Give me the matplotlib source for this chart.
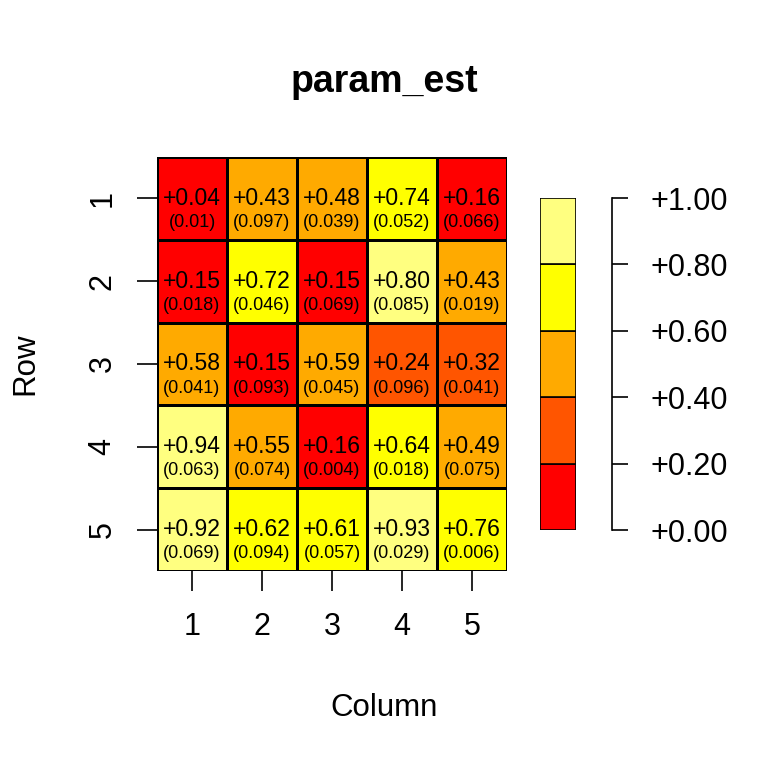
import numpy as np
import matplotlib.pyplot as plt
from matplotlib.colors import ListedColormap, BoundaryNorm

plt.rcParams['font.family'] = ['Liberation Sans', 'DejaVu Sans']

# Estimated parameters (rows 1..5 from top)
param_est = np.array([
    [0.04, 0.43, 0.48, 0.74, 0.16],
    [0.15, 0.72, 0.15, 0.80, 0.43],
    [0.58, 0.15, 0.59, 0.24, 0.32],
    [0.94, 0.55, 0.16, 0.64, 0.49],
    [0.92, 0.62, 0.61, 0.93, 0.76],
])
# Standard errors shown under each value
param_se = [
    ["0.01", "0.097", "0.039", "0.052", "0.066"],
    ["0.018", "0.046", "0.069", "0.085", "0.019"],
    ["0.041", "0.093", "0.045", "0.096", "0.041"],
    ["0.063", "0.074", "0.004", "0.018", "0.075"],
    ["0.069", "0.094", "0.057", "0.029", "0.006"],
]
row_labels = ["1", "2", "3", "4", "5"]
col_labels = ["1", "2", "3", "4", "5"]
breaks = [0.0, 0.2, 0.4, 0.6, 0.8, 1.0]
heat_colors = ["#FF0000", "#FF5500", "#FFAA00", "#FFFF00", "#FFFF80"]

cmap = ListedColormap(heat_colors)
norm = BoundaryNorm(breaks, cmap.N)

W = 768.0
fig = plt.figure(figsize=(7.68, 7.68), dpi=100)

# main heatmap
ax = fig.add_axes([157 / W, (768 - 571) / W, 350 / W, 414 / W])
nr, nc = param_est.shape
xe = np.arange(nc + 1) + 0.5
ye = np.arange(nr + 1) + 0.5
ax.pcolormesh(xe, ye, param_est, cmap=cmap, norm=norm,
              edgecolors='black', linewidth=1.0)
ax.set_xlim(0.5, nc + 0.5)
ax.set_ylim(nr + 0.5, 0.5)
for i in range(nr):
    for j in range(nc):
        ax.text(j + 1, i + 1, "%+.2f" % param_est[i, j], ha='center', va='center',
                fontsize=16.5)
        ax.text(j + 1, i + 1.29, "(%s)" % param_se[i][j], ha='center', va='center',
                fontsize=13)
for s in ax.spines.values():
    s.set_visible(False)
ax.set_xticks(np.arange(1, nc + 1))
ax.set_xticklabels(col_labels)
ax.set_yticks(np.arange(1, nr + 1))
ax.set_yticklabels(row_labels, rotation=90, va='center')
ax.tick_params(axis='x', length=14.4, width=1.2, pad=15, labelsize=22)
ax.tick_params(axis='y', length=14.4, width=1.2, pad=14, labelsize=22)

# colour key
cax = fig.add_axes([540 / W, (768 - 530) / W, 36 / W, 332 / W])
for k in range(len(heat_colors)):
    cax.bar(0.5, breaks[k + 1] - breaks[k], bottom=breaks[k], width=1.0,
            color=heat_colors[k], edgecolor='black', linewidth=1.2)
cax.set_xlim(0, 1)
cax.set_ylim(0, 1)
cax.set_xticks([])
for side in ['left', 'top', 'bottom']:
    cax.spines[side].set_visible(False)
cax.spines['right'].set_position(('outward', 26))
cax.spines['right'].set_linewidth(1.2)
cax.yaxis.tick_right()
cax.set_yticks(breaks)
cax.set_yticklabels(["%+.2f" % b for b in breaks])
cax.tick_params(axis='y', length=11.5, width=1.2, pad=16, labelsize=22)

fig.text(0.5, 1 - 82 / W, "param_est", ha='center', va='center',
         fontsize=27, fontweight='bold')
fig.text(0.5, 1 - 708 / W, "Column", ha='center', va='center', fontsize=22.5)
fig.text(25 / W, 1 - 364 / W, "Row", ha='center', va='center', fontsize=22.5,
         rotation=90)

fig.savefig("out.png", dpi=100)
